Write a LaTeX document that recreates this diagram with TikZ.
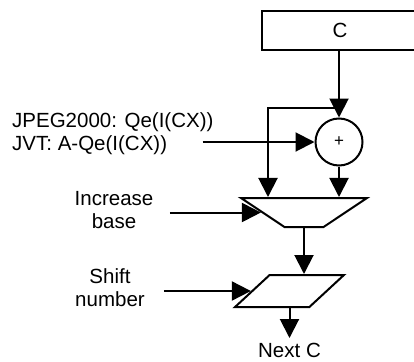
\documentclass[tikz,border=0pt]{standalone}
\usepackage{fontspec}
\setmainfont{Liberation Sans}
\usetikzlibrary{arrows.meta, positioning, calc, shapes.geometric}

\begin{document}
\begin{tikzpicture}[
  x=1pt, y=-1pt,
  >={Triangle[length=19pt, width=19pt]},
  arr/.style={->, line width=2pt, black},
  lbl/.style={font=\fontsize{20.5}{23}\selectfont, align=center, inner sep=0pt},
  block/.style={
    draw, line width=2pt, inner sep=0pt,
    font=\fontsize{20.5}{23}\selectfont
  },
  shapeblock/.style={
    draw, line width=2pt, inner sep=2pt, shape=trapezium,
    trapezium stretches=true
  },
]

% Frame
\useasboundingbox (0,0) rectangle (414,361);

% =============================================
% Input and adder
% =============================================
\node[block, minimum width=156pt, minimum height=39pt] (cin) at (340,30.5) {C};

\node[block, circle, minimum size=47pt, font=\fontsize{17}{19}\selectfont]
  (add) at (339,142) {+};

\node[lbl, align=left, anchor=west] (qe) at (12,134)
  {JPEG2000: Qe(I(CX))\\JVT: A-Qe(I(CX))};

% =============================================
% Increase base / shift number
% =============================================
\node[shapeblock, shape border rotate=180,
      trapezium left angle=42, trapezium right angle=42,
      minimum width=126pt, minimum height=29pt]
  (base) at (304,212.5) {};

\node[shapeblock,
      trapezium left angle=49, trapezium right angle=131,
      minimum width=109pt, minimum height=32pt]
  (shift) at (289.5,291) {};

\node[lbl] (inc) at (114,210) {Increase\\base};
\node[lbl] (shf) at (110,288) {Shift\\number};

\node[lbl, inner sep=5pt, below=30pt of shift] (next) {Next C};

% Split point on the C line
\coordinate (split) at (339,108);

% Arrows
\draw[arr] (cin.south -| add.north) -- (add.north);
\draw[arr] (split) -| ([xshift=-36pt]base.north);
\draw[arr] ([xshift=-112pt]add.west) -- (add.west);
\draw[arr] (add.south) -- (add.south |- base.north);
\draw[arr] ([xshift=-91pt]base.west) -- (base.west);
\draw[arr] (base.south) -- (base.south |- shift.north);
\draw[arr] ([xshift=-87pt]shift.west) -- (shift.west);
\draw[arr] (shift.south) -- (next.north);

\end{tikzpicture}
\end{document}
